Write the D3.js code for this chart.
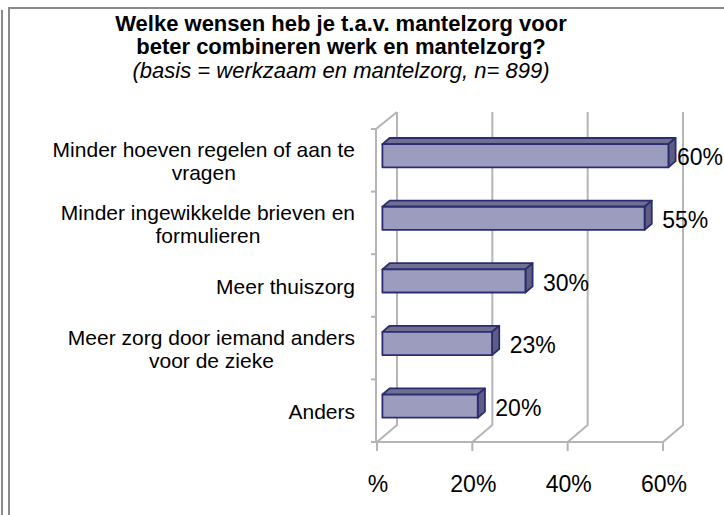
<!DOCTYPE html>
<html>
<head>
<meta charset="utf-8">
<script src="https://cdn.jsdelivr.net/npm/d3@7"></script>
<style>
  html, body { margin: 0; padding: 0; background: #fff; }
  svg { display: block; font-family: "Liberation Sans", Arial, sans-serif; }
</style>
</head>
<body>
<svg id="chart" width="724" height="515"></svg>
<script>
// ---- data ----
const categories = [
  ["Minder hoeven regelen of aan te", "vragen"],
  ["Minder ingewikkelde brieven en", "formulieren"],
  ["Meer thuiszorg"],
  ["Meer zorg door iemand anders", "voor de zieke"],
  ["Anders"]
];
const values = [60, 55, 30, 23, 20];
const valueLabels = ["60%", "55%", "30%", "23%", "20%"];
const tickValues = [0, 20, 40, 60];
const tickLabels = ["%", "20%", "40%", "60%"];
const titleLines = ["Welke wensen heb je t.a.v. mantelzorg voor", "beter combineren werk en mantelzorg?"];
const subtitle = "(basis = werkzaam en mantelzorg, n= 899)";

// ---- layout ----
const svg = d3.select("#chart");
const DX = 20, DY = -17;          // 3D depth offset
const frontTop = 129, frontBottom = 442;
const x = d3.scaleLinear().domain([0, 60]).range([377, 663]);
const keys = categories.map((c, i) => i);
const y = d3.scaleBand().domain(keys).range([frontTop, frontBottom]);
const z0 = 0.27, z1 = 0.63;
const barH = y.bandwidth() * 0.37;
const gridColor = "#b5b5b5";

// frame (left double border + top line)
svg.append("line").attr("x1", 2).attr("x2", 2).attr("y1", 10).attr("y2", 515)
  .attr("stroke", "#8a8a8a").attr("stroke-width", 2);
svg.append("line").attr("x1", 9).attr("x2", 9).attr("y1", 7).attr("y2", 515)
  .attr("stroke", "#8a8a8a").attr("stroke-width", 2);
svg.append("line").attr("x1", 8).attr("x2", 724).attr("y1", 8).attr("y2", 8)
  .attr("stroke", "#8a8a8a").attr("stroke-width", 2);

// title
const title = svg.append("g");
titleLines.forEach((t, i) => {
  title.append("text").attr("x", 341).attr("y", 31 + i * 23)
    .attr("text-anchor", "middle").attr("font-size", 22).attr("font-weight", "bold")
    .attr("fill", "#000").style("white-space", "pre").text(t);
});
title.append("text").attr("x", 341).attr("y", 78)
  .attr("text-anchor", "middle").attr("font-size", 22).attr("font-style", "italic")
  .attr("fill", "#000").style("white-space", "pre").text(subtitle);

// back wall gridlines + floor diagonals
const grid = svg.append("g").attr("stroke", gridColor).attr("stroke-width", 2).attr("fill", "none");
tickValues.forEach(t => {
  grid.append("path").attr("d",
    `M${x(t) + DX},${frontTop + DY}L${x(t) + DX},${frontBottom + DY}L${x(t)},${frontBottom}`);
});
// floor front edge
grid.append("line").attr("x1", x(0) - 1).attr("x2", x(60)).attr("y1", frontBottom).attr("y2", frontBottom);
// value axis ticks
tickValues.forEach(t => {
  grid.append("line").attr("x1", x(t)).attr("x2", x(t)).attr("y1", frontBottom).attr("y2", frontBottom + 9);
});
// category axis (front left edge)
const ax = x(0) - 1;
grid.append("line").attr("x1", ax).attr("x2", ax).attr("y1", frontTop).attr("y2", frontBottom + 1);
grid.append("line").attr("x1", ax).attr("x2", x(0) + DX).attr("y1", frontTop).attr("y2", frontTop + DY);
const bounds = keys.map(k => y(k)).concat([frontBottom]);
bounds.forEach(b => {
  grid.append("line").attr("x1", ax - 5).attr("x2", ax).attr("y1", b).attr("y2", b);
});

// bars (3D)
const bars = svg.append("g").attr("stroke", "#2b2c70").attr("stroke-width", 1.8).attr("stroke-linejoin", "round");
values.forEach((v, i) => {
  const c = y(i) + y.bandwidth() / 2;
  const xl = x(0) + z0 * DX, xr = x(v) + z0 * DX;
  const yt = c - barH / 2 + z0 * DY, yb = c + barH / 2 + z0 * DY;
  const ddx = (z1 - z0) * DX, ddy = (z1 - z0) * DY;
  // top face
  bars.append("path").attr("fill", "#6f6f92")
    .attr("d", `M${xl},${yt}L${xl + ddx},${yt + ddy}L${xr + ddx},${yt + ddy}L${xr},${yt}Z`);
  // side face
  bars.append("path").attr("fill", "#5d5e82")
    .attr("d", `M${xr},${yt}L${xr + ddx},${yt + ddy}L${xr + ddx},${yb + ddy}L${xr},${yb}Z`);
  // front face
  bars.append("rect").attr("x", xl).attr("y", yt).attr("width", xr - xl).attr("height", yb - yt)
    .attr("fill", "#9c9cbf");
});

// value labels
values.forEach((v, i) => {
  const c = y(i) + y.bandwidth() / 2;
  const t = svg.append("text").attr("font-size", 23).attr("fill", "#000")
    .attr("y", c + 5).text(valueLabels[i]);
  const w = t.node().getComputedTextLength();
  t.attr("x", Math.min(x(v) + 23, 724 - w - 1));
});

// tick labels
tickValues.forEach((t, i) => {
  svg.append("text").attr("x", x(t) + 1).attr("y", 492).attr("text-anchor", "middle")
    .attr("font-size", 23).attr("fill", "#000").text(tickLabels[i]);
});

// category labels (wrapped, centred, block right-aligned)
const rightEdge = 355, lineH = 23;
categories.forEach((lines, i) => {
  const c = y(i) + y.bandwidth() / 2;
  const g = svg.append("g");
  const texts = lines.map((ln, j) => g.append("text")
    .attr("y", c + 8.5 + (j - (lines.length - 1) / 2) * lineH)
    .attr("text-anchor", "middle").attr("font-size", 21).attr("fill", "#000").text(ln));
  const maxW = d3.max(texts, t => t.node().getComputedTextLength());
  texts.forEach(t => t.attr("x", rightEdge - maxW / 2));
});
</script>
</body>
</html>
